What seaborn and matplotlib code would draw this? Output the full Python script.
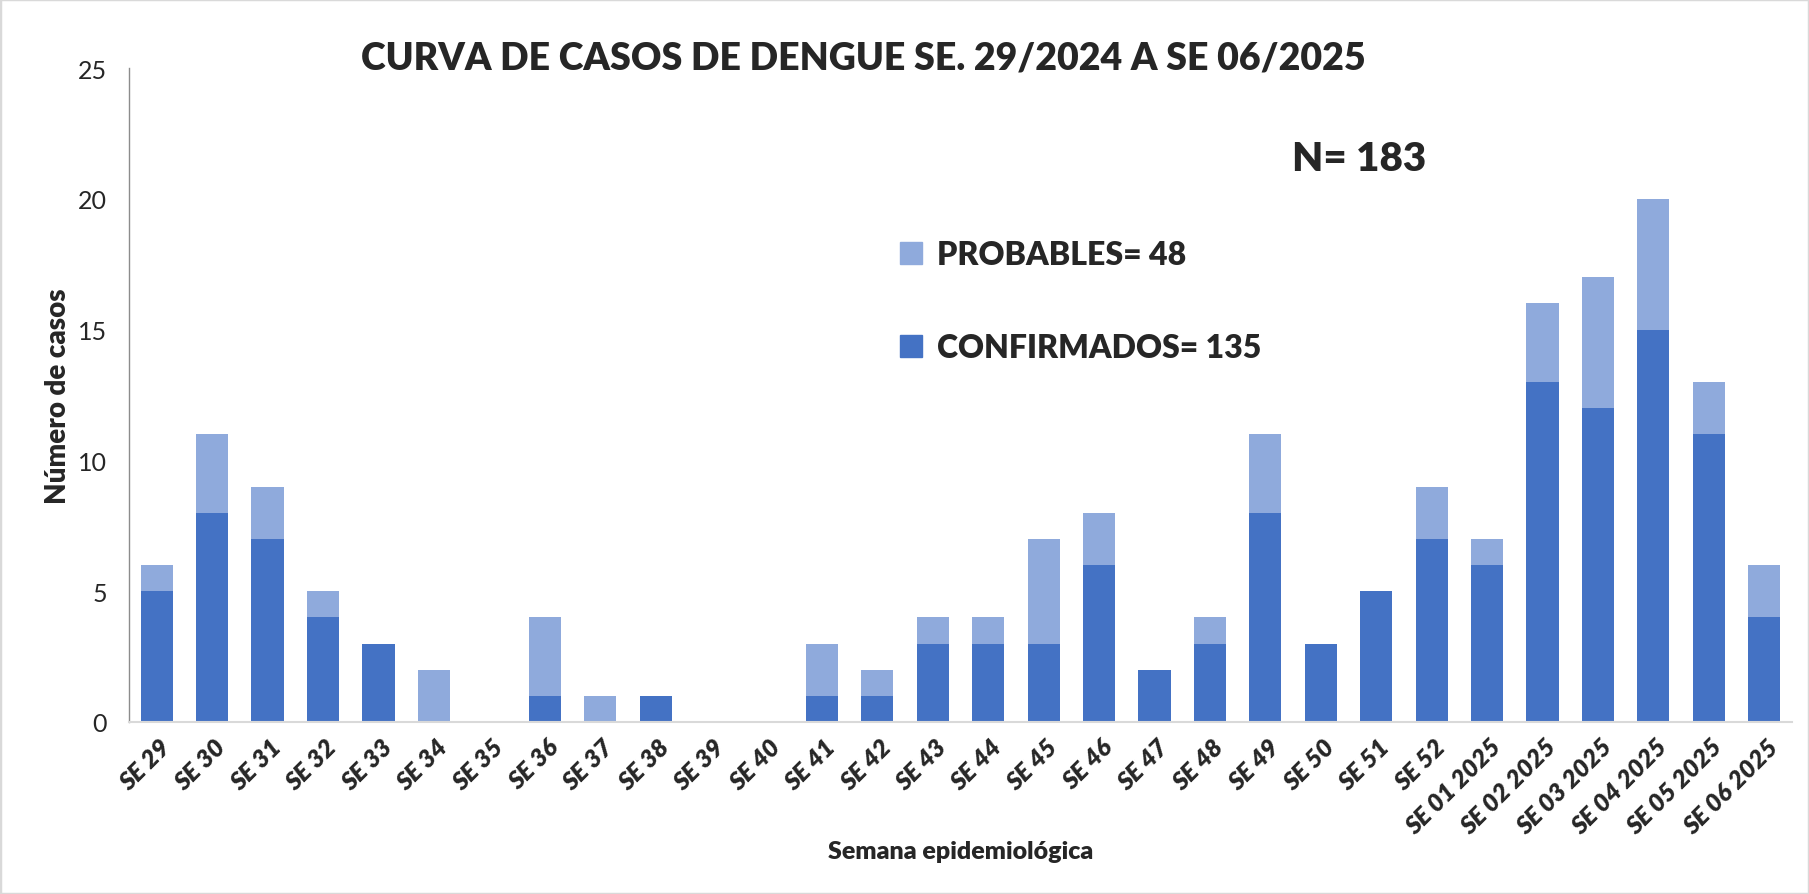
import pandas as pd
import numpy as np
import matplotlib
matplotlib.use('Agg')
import matplotlib.pyplot as plt
import matplotlib.patches as mpatches
import matplotlib.transforms as mtrans
import seaborn as sns

semanas = ['SE 29', 'SE 30', 'SE 31', 'SE 32', 'SE 33', 'SE 34', 'SE 35', 'SE 36', 'SE 37', 'SE 38',
           'SE 39', 'SE 40', 'SE 41', 'SE 42', 'SE 43', 'SE 44', 'SE 45', 'SE 46', 'SE 47', 'SE 48',
           'SE 49', 'SE 50', 'SE 51', 'SE 52', 'SE 01 2025', 'SE 02 2025', 'SE 03 2025', 'SE 04 2025',
           'SE 05 2025', 'SE 06 2025']
confirmados = [5, 8, 7, 4, 3, 0, 0, 1, 0, 1, 0, 0, 1, 1, 3, 3, 3, 6, 2, 3, 8, 3, 5, 7, 6, 13, 12, 15, 11, 4]
probables = [1, 3, 2, 1, 0, 2, 0, 3, 1, 0, 0, 0, 2, 1, 1, 1, 4, 2, 0, 1, 3, 0, 0, 2, 1, 3, 5, 5, 2, 2]

df = pd.DataFrame({'semana': semanas, 'confirmados': confirmados, 'probables': probables})
df['total'] = df['confirmados'] + df['probables']

sns.set_style('white')
plt.rcParams['font.family'] = ['Lato', 'DejaVu Sans']

c_conf = '#4472C4'
c_prob = '#8FAADC'

fig = plt.figure(figsize=(18.09, 8.95), dpi=100)
ax = fig.add_axes([0.0713, 0.1922, 0.9193, 0.7307])

# total bar in light blue, confirmed on top of it in dark blue -> stacked look
sns.barplot(data=df, x='semana', y='total', color=c_prob, width=0.58, ax=ax, saturation=1, linewidth=0)
sns.barplot(data=df, x='semana', y='confirmados', color=c_conf, width=0.58, ax=ax, saturation=1, linewidth=0)

ax.set_ylim(0, 25)
ax.set_yticks([0, 5, 10, 15, 20, 25])
ax.set_xlim(-0.5, len(semanas) - 0.5)
ax.tick_params(axis='y', labelsize=18, length=0, pad=16)
ax.tick_params(axis='x', length=0, pad=12)
shift = mtrans.ScaledTranslation(10 / 100, -4 / 100, fig.dpi_scale_trans)
for lbl in ax.get_xticklabels():
    lbl.set_rotation(45)
    lbl.set_ha('right')
    lbl.set_va('center')
    lbl.set_rotation_mode('anchor')
    lbl.set_fontsize(18)
    lbl.set_fontweight('heavy')
    lbl.set_fontstyle('italic')
    lbl.set_transform(lbl.get_transform() + shift)

for s in ['top', 'right']:
    ax.spines[s].set_visible(False)
ax.spines['left'].set_color('#8C8C8C')
ax.spines['left'].set_linewidth(1.0)
ax.spines['bottom'].set_color('#D9D9D9')
ax.spines['bottom'].set_linewidth(1.5)

ax.set_xlabel('Semana epidemiológica', fontsize=18, fontweight='heavy', labelpad=1)
ax.set_ylabel('Número de casos', fontsize=20, fontweight='heavy', labelpad=5)

fig.text(0.477, 0.935, 'CURVA DE CASOS DE DENGUE SE. 29/2024 A SE 06/2025',
         ha='center', va='center', fontsize=27, fontweight='heavy')
fig.text(0.714, 0.822, 'N= 183', ha='left', va='center', fontsize=29, fontweight='heavy')

handles = [mpatches.Patch(color=c_prob, label='PROBABLES= 48'),
           mpatches.Patch(color=c_conf, label='CONFIRMADOS= 135')]
fig.legend(handles=handles, loc='upper left', bbox_to_anchor=(0.4905, 0.745), frameon=False,
           prop={'weight': 'heavy', 'size': 23}, handlelength=0.7, handleheight=0.7,
           handletextpad=0.45, labelspacing=2.0, borderaxespad=0)

fig.patches.append(mpatches.Rectangle((0, 0), 1, 1, transform=fig.transFigure, fill=False,
                                      edgecolor='#D9D9D9', linewidth=2.5))

plt.savefig('out.png', dpi=100)
